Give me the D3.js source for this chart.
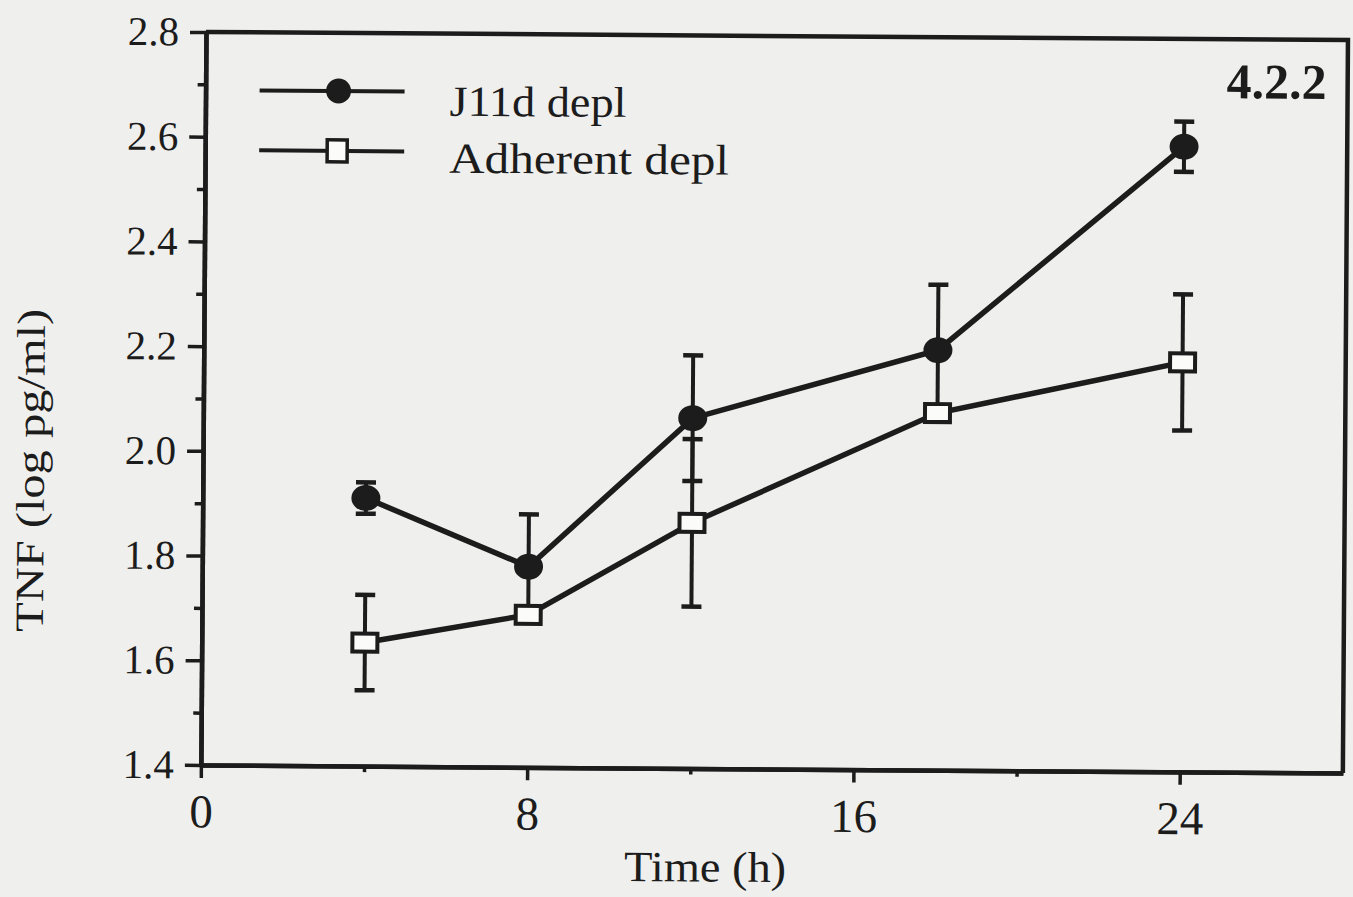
<!DOCTYPE html>
<html>
<head>
<meta charset="utf-8">
<script src="https://cdn.jsdelivr.net/npm/d3@7"></script>
<style>
  html, body { margin: 0; padding: 0; background: #efefed; }
  svg { display: block; }
  text { font-family: "Liberation Serif", "Times New Roman", serif; fill: #1c1c1c; }
</style>
</head>
<body>
<script>
// ---- data ----
const times = [4, 8, 12, 18, 24];
const j11dMean = [1.912, 1.783, 2.069, 2.202, 2.594];
const j11dErr = [0.03, 0.10, 0.12, 0.125, 0.048];
const adherentMean = [1.636, 1.691, 1.869, 2.082, 2.182];
const adherentErr = [0.091, 0.012, 0.16, 0.012, 0.13];
const seriesNames = ["J11d depl", "Adherent depl"];
const xMajorTicks = [0, 8, 16, 24];
const xMinorTicks = [4, 12, 20];
const yMajorTicks = [1.4, 1.6, 1.8, 2.0, 2.2, 2.4, 2.6, 2.8];
const yMinorTicks = [1.5, 1.7, 1.9, 2.1, 2.3, 2.5, 2.7];
const xLabel = "Time (h)";
const yLabel = "TNF (log pg/ml)";
const panelLabel = "4.2.2";

(function () {
const W = 1353, H = 897;
const ink = "#1c1c1c";
const pLeft = 206, pTop = 32, pRight = 1348, pBottom = 765;

const svg = d3.select("body").append("svg").attr("width", W).attr("height", H);
svg.append("rect").attr("width", W).attr("height", H).attr("fill", "#efefed");

// slight scan tilt
const g = svg.append("g").attr("transform", `rotate(0.4, ${pLeft}, ${pTop})`);

const x = d3.scaleLinear().domain([0, 28]).range([pLeft, pRight]);
const y = d3.scaleLinear().domain([1.4, 2.8]).range([pBottom, pTop]);

// frame (top + right)
g.append("path")
  .attr("d", `M${x(0)},${y(2.8)}H${x(28)}V${y(1.4)}`)
  .attr("fill", "none").attr("stroke", ink).attr("stroke-width", 4.5);

// y axis
const yMinor = g.append("g").attr("transform", `translate(${pLeft},0)`)
  .call(d3.axisLeft(y).tickValues(yMinorTicks).tickSize(8).tickSizeOuter(0).tickFormat(""));
const yAxis = g.append("g").attr("transform", `translate(${pLeft},0)`)
  .call(d3.axisLeft(y).tickValues(yMajorTicks).tickSize(16).tickSizeOuter(0).tickPadding(11)
    .tickFormat(d3.format(".1f")));
// x axis
const xMinor = g.append("g").attr("transform", `translate(0,${pBottom})`)
  .call(d3.axisBottom(x).tickValues(xMinorTicks).tickSize(6).tickSizeOuter(0).tickFormat(""));
const xAxis = g.append("g").attr("transform", `translate(0,${pBottom})`)
  .call(d3.axisBottom(x).tickValues(xMajorTicks).tickSize(13).tickSizeOuter(0).tickPadding(16));

[yMinor, yAxis, xMinor, xAxis].forEach(a => {
  a.select(".domain").attr("stroke", ink).attr("stroke-width", 4.5);
  a.selectAll(".tick line").attr("stroke", ink).attr("stroke-width", 3.5);
});
yAxis.selectAll(".tick text").attr("font-size", 41).attr("fill", ink)
  .attr("font-family", "Liberation Serif, serif");
xAxis.selectAll(".tick text").attr("font-size", 47).attr("fill", ink)
  .attr("font-family", "Liberation Serif, serif");

// axis titles
g.append("text").attr("x", 711).attr("y", 878)
  .attr("text-anchor", "middle").attr("font-size", 43)
  .attr("textLength", 162).attr("lengthAdjust", "spacingAndGlyphs")
  .text(xLabel);
g.append("text").attr("transform", `translate(47,${(310 + 633) / 2}) rotate(-90)`)
  .attr("text-anchor", "middle").attr("font-size", 40)
  .attr("textLength", 323).attr("lengthAdjust", "spacingAndGlyphs")
  .text(yLabel);

// panel label
g.append("text").attr("x", 1327).attr("y", 91).attr("text-anchor", "end")
  .attr("font-size", 50).attr("font-weight", "bold").text(panelLabel);

// series
const series = [
  { name: seriesNames[0], mean: j11dMean, err: j11dErr, marker: "circle" },
  { name: seriesNames[1], mean: adherentMean, err: adherentErr, marker: "square" }
];

const line = d3.line().x(d => x(d.t)).y(d => y(d.v));

series.forEach(s => {
  const pts = times.map((t, i) => ({ t, v: s.mean[i], e: s.err[i] }));
  const eb = g.append("g");
  pts.forEach(p => {
    eb.append("line").attr("x1", x(p.t)).attr("x2", x(p.t))
      .attr("y1", y(p.v - p.e)).attr("y2", y(p.v + p.e))
      .attr("stroke", ink).attr("stroke-width", 4);
    [p.v - p.e, p.v + p.e].forEach(v => {
      eb.append("line").attr("x1", x(p.t) - 10).attr("x2", x(p.t) + 10)
        .attr("y1", y(v)).attr("y2", y(v))
        .attr("stroke", ink).attr("stroke-width", 4.5);
    });
  });
  s.pts = pts;
});

series.forEach(s => {
  g.append("path").datum(s.pts).attr("d", line)
    .attr("fill", "none").attr("stroke", ink).attr("stroke-width", 5.5);
});

series.forEach(s => {
  s.pts.forEach(p => {
    if (s.marker === "circle") {
      g.append("ellipse").attr("cx", x(p.t)).attr("cy", y(p.v))
        .attr("rx", 14.5).attr("ry", 13).attr("fill", ink);
    } else {
      g.append("rect").attr("x", x(p.t) - 12.5).attr("y", y(p.v) - 9)
        .attr("width", 25).attr("height", 18)
        .attr("fill", "#fbfbf9").attr("stroke", ink).attr("stroke-width", 4);
    }
  });
});

// legend
const legendRows = [
  { name: seriesNames[0], marker: "circle", ly: 90, ty: 114 },
  { name: seriesNames[1], marker: "square", ly: 150, ty: 171 }
];
legendRows.forEach(r => {
  g.append("line").attr("x1", 260).attr("x2", 405).attr("y1", r.ly).attr("y2", r.ly)
    .attr("stroke", ink).attr("stroke-width", 4);
  if (r.marker === "circle") {
    g.append("circle").attr("cx", 339).attr("cy", r.ly).attr("r", 12.5).attr("fill", ink);
  } else {
    g.append("rect").attr("x", 328).attr("y", r.ly - 11).attr("width", 20).attr("height", 22)
      .attr("fill", "#fbfbf9").attr("stroke", ink).attr("stroke-width", 3.5);
  }
  g.append("text").attr("x", 450).attr("y", r.ty).attr("font-size", 43)
    .attr("textLength", r.marker === "circle" ? 177 : 280).attr("lengthAdjust", "spacingAndGlyphs")
    .text(r.name);
});
})();
</script>
</body>
</html>
